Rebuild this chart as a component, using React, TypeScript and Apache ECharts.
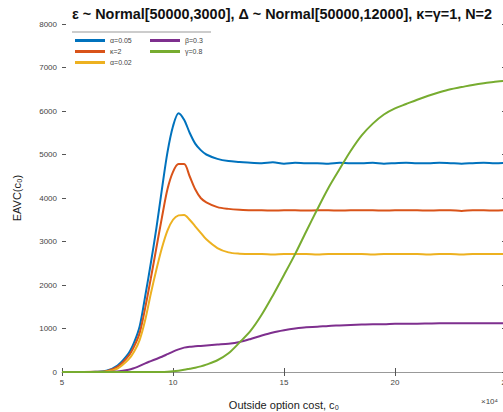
import React, { useEffect, useRef } from "react";
import * as echarts from "echarts";

const xs = [5, 5.5, 6, 6.5, 7, 7.5, 8, 8.25, 8.5, 8.75, 9, 9.25, 9.5, 9.75, 10, 10.25, 10.5, 10.75, 11, 11.25, 11.5, 12, 12.5, 13, 13.5, 14, 14.5, 15, 15.5, 16, 16.5, 17, 17.5, 18, 18.5, 19, 19.5, 20, 20.5, 21, 21.5, 22, 22.5, 23, 23.5, 24, 24.5, 25];

const seriesNames = ["α=0.05", "κ=2", "α=0.02", "β=0.3", "γ=0.8"];

const blue = [0, 0, 0, 5, 30, 150, 430, 680, 1050, 1750, 2500, 3300, 4200, 5050, 5650, 5950, 5800, 5500, 5250, 5100, 5000, 4900, 4850, 4830, 4810, 4800, 4820, 4790, 4810, 4800, 4800, 4790, 4810, 4800, 4800, 4810, 4790, 4800, 4810, 4800, 4800, 4810, 4800, 4790, 4800, 4810, 4800, 4810];
const orange = [0, 0, 0, 3, 20, 120, 370, 590, 900, 1480, 2150, 2850, 3550, 4200, 4600, 4780, 4780, 4500, 4200, 4000, 3900, 3790, 3750, 3730, 3720, 3720, 3710, 3720, 3720, 3710, 3720, 3720, 3710, 3720, 3720, 3720, 3710, 3720, 3720, 3720, 3710, 3720, 3720, 3700, 3720, 3720, 3710, 3720];
const yellow = [0, 0, 0, 2, 10, 80, 290, 470, 740, 1200, 1800, 2350, 2850, 3250, 3500, 3600, 3610, 3500, 3350, 3200, 3050, 2850, 2750, 2720, 2710, 2710, 2700, 2710, 2710, 2710, 2700, 2710, 2710, 2710, 2710, 2700, 2710, 2710, 2710, 2710, 2700, 2710, 2710, 2700, 2710, 2710, 2710, 2710];
const purple = [0, 0, 0, 0, 0, 10, 50, 90, 140, 200, 250, 300, 350, 410, 470, 520, 560, 580, 590, 600, 610, 630, 650, 690, 760, 840, 910, 960, 1000, 1030, 1040, 1060, 1070, 1080, 1090, 1100, 1100, 1110, 1110, 1110, 1115, 1120, 1120, 1120, 1120, 1120, 1120, 1120];
const green = [0, 0, 0, 0, 0, 0, 0, 0, 0, 0, 0, 0, 0, 5, 15, 30, 50, 75, 100, 130, 170, 270, 430, 680, 950, 1320, 1760, 2230, 2710, 3230, 3740, 4230, 4660, 5080, 5440, 5710, 5920, 6060, 6160, 6260, 6350, 6430, 6500, 6550, 6600, 6640, 6670, 6700];

const colors = ["#0072BD", "#D95319", "#EDB120", "#7E2F8E", "#77AC30"];
const allValues = [blue, orange, yellow, purple, green];

const FONT = "Liberation Sans, Arial, Helvetica, sans-serif";

export default function App() {
  const ref = useRef<HTMLDivElement>(null);
  useEffect(() => {
    if (!ref.current) return;
    const chart = echarts.init(ref.current, null, { renderer: "svg" });
    const series = allValues.map((vals, i) => ({
      name: seriesNames[i],
      type: "line",
      data: xs.map((x, j) => [x, vals[j]]),
      showSymbol: false,
      smooth: 0.3,
      lineStyle: { width: 2, color: colors[i] },
      itemStyle: { color: colors[i] },
      xAxisIndex: 0,
      yAxisIndex: 0,
      z: 2 + i,
    }));
    const legendCommon = {
      orient: "vertical",
      top: 36,
      itemWidth: 30,
      itemHeight: 3,
      itemGap: 2,
      padding: 0,
      icon: "rect",
      textStyle: { fontSize: 7, color: "#444", fontFamily: FONT, lineHeight: 9 },
    };
    const tickStyle = { show: true, inside: true, length: 4, lineStyle: { color: "#555" } };
    chart.setOption({
      animation: false,
      textStyle: { fontFamily: FONT },
      title: {
        text: "ε ~ Normal[50000,3000], Δ ~ Normal[50000,12000], κ=γ=1, N=2",
        left: 72,
        top: 7,
        padding: 0,
        textStyle: { fontSize: 14.4, fontWeight: "bold", color: "#111", fontFamily: FONT },
      },
      legend: [
        { ...legendCommon, left: 75, data: [seriesNames[0], seriesNames[1], seriesNames[2]] },
        { ...legendCommon, left: 150, data: [seriesNames[3], seriesNames[4]] },
      ],
      grid: { left: 62, top: 24, right: -3, bottom: 40, containLabel: false, outerBoundsMode: "none" },
      xAxis: [
        {
          type: "value",
          position: "bottom",
          min: 5,
          max: 25,
          interval: 5,
          axisLine: { show: true, lineStyle: { color: "#999", width: 1 } },
          axisTick: tickStyle,
          axisLabel: { fontSize: 8, color: "#444", margin: 6, fontFamily: FONT },
          splitLine: { show: false },
          name: "Outside option cost, c₀",
          nameLocation: "middle",
          nameGap: 27,
          nameTextStyle: { fontSize: 11, color: "#222", fontFamily: FONT },
        },
        {
          type: "value",
          position: "top",
          min: 5,
          max: 25,
          interval: 5,
          axisLine: { show: false },
          axisTick: tickStyle,
          axisLabel: { show: false },
          splitLine: { show: false },
        },
      ],
      yAxis: [
        {
          type: "value",
          position: "left",
          min: 0,
          max: 8000,
          interval: 1000,
          axisLine: { show: false },
          axisTick: tickStyle,
          axisLabel: {
            fontSize: 8,
            color: "#444",
            margin: 5,
            fontFamily: FONT,
            formatter: (v: number) => String(v),
          },
          splitLine: { show: false },
          name: "EAVC(c₀)",
          nameLocation: "middle",
          nameGap: 40,
          nameRotate: 90,
          nameTextStyle: { fontSize: 11, color: "#222", fontFamily: FONT },
        },
        {
          type: "value",
          position: "right",
          min: 0,
          max: 8000,
          interval: 1000,
          axisLine: { show: false },
          axisTick: tickStyle,
          axisLabel: { show: false },
          splitLine: { show: false },
        },
      ],
      graphic: [
        {
          type: "line",
          shape: { x1: 72, y1: 32, x2: 211, y2: 32 },
          style: { stroke: "#999", lineWidth: 1 },
        },
        {
          type: "text",
          x: 481,
          y: 401,
          style: { text: "×10⁴", fontSize: 8, fill: "#444", fontFamily: FONT, textVerticalAlign: "middle" },
        },
      ],
      series,
    });
    return () => chart.dispose();
  }, []);
  return (
    <div
      ref={ref}
      style={{ position: "fixed", left: 0, top: 0, width: 503, height: 412, background: "#fff" }}
    />
  );
}
